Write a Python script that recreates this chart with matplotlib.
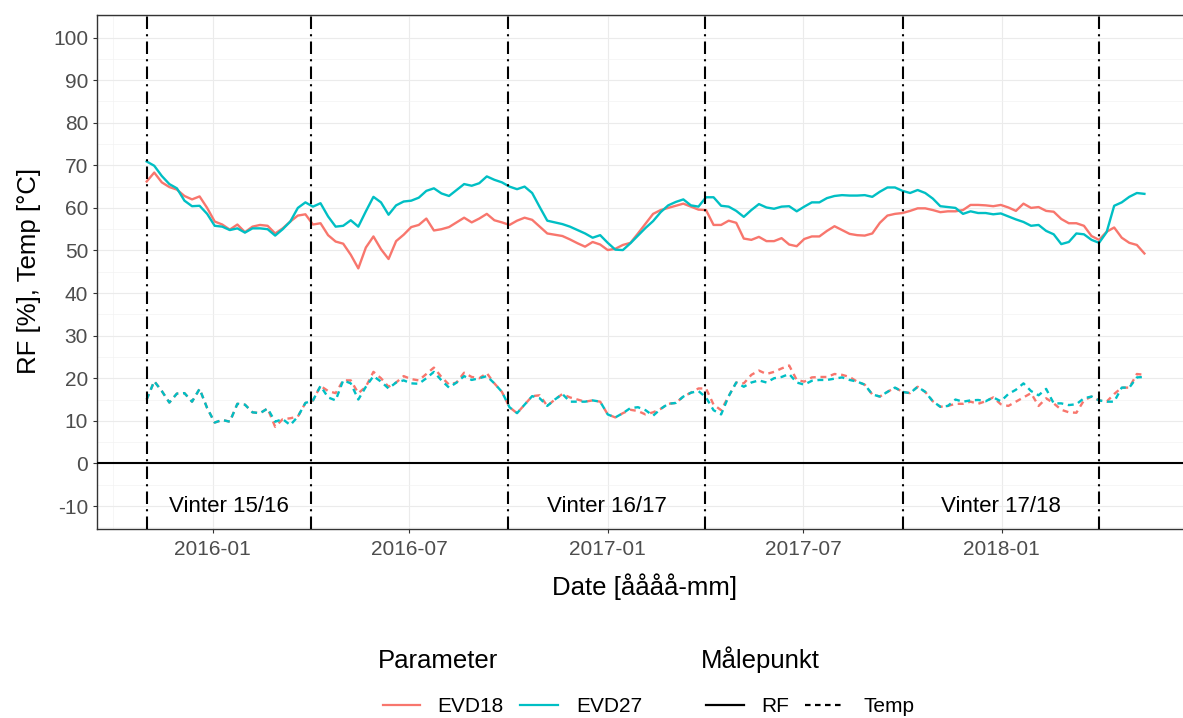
import matplotlib
matplotlib.use("Agg")
import matplotlib.pyplot as plt
import matplotlib.dates as mdates
from matplotlib.lines import Line2D
import pandas as pd

plt.rcParams['font.family'] = ['Liberation Sans', 'DejaVu Sans']
plt.rcParams['axes.unicode_minus'] = False

# ---------------- data (weekly readings from the reference) ----------------
start_date = "2015-11-01"
n_points = 133
dates = pd.date_range(start_date, periods=n_points, freq="7D")

rf_evd18 = [66.2, 68.3, 66.0, 64.9, 64.3, 62.8, 62.0, 62.7, 60.0, 56.8,
            56.1, 54.9, 56.1, 54.3, 55.6, 56.0, 55.8, 54.0, 55.2, 56.8,
            58.2, 58.5, 56.1, 56.4, 53.6, 52.1, 51.6, 49.0, 45.8, 50.7,
            53.3, 50.3, 48.0, 52.2, 53.7, 55.5, 56.0, 57.5, 54.7, 55.0,
            55.5, 56.6, 57.7, 56.6, 57.5, 58.6, 57.1, 56.6, 56.0, 57.0,
            57.7, 57.2, 55.6, 54.0, 53.7, 53.4, 52.6, 51.7, 50.9, 52.0,
            51.4, 50.1, 50.4, 51.3, 51.8, 54.0, 56.3, 58.6, 59.5, 60.0,
            60.5, 61.0, 60.3, 59.6, 59.5, 56.0, 56.0, 57.0, 56.5, 52.8,
            52.5, 53.2, 52.2, 52.2, 52.9, 51.4, 51.0, 52.7, 53.3, 53.3,
            54.6, 55.7, 54.8, 53.9, 53.6, 53.5, 54.0, 56.5, 58.2, 58.6,
            58.8, 59.3, 59.9, 59.9, 59.5, 59.0, 59.2, 59.2, 59.5, 60.7,
            60.7, 60.6, 60.4, 60.7, 60.1, 59.3, 61.0, 60.0, 60.2, 59.3,
            59.1, 57.4, 56.4, 56.4, 55.8, 53.4, 52.5, 54.4, 55.4, 53.0,
            51.8, 51.3, 49.3]

rf_evd27 = [70.9, 69.9, 67.5, 65.6, 64.6, 61.7, 60.4, 60.5, 58.6, 55.8,
            55.6, 54.8, 55.2, 54.2, 55.2, 55.2, 55.0, 53.5, 55.0, 56.8,
            60.0, 61.3, 60.3, 61.1, 58.0, 55.6, 55.8, 57.1, 55.6, 59.2,
            62.6, 61.3, 58.4, 60.6, 61.5, 61.7, 62.4, 64.0, 64.6, 63.4,
            62.8, 64.2, 65.6, 65.2, 65.8, 67.4, 66.6, 66.0, 65.0, 64.4,
            65.0, 63.5, 60.2, 57.0, 56.6, 56.2, 55.6, 54.8, 54.0, 53.0,
            53.6, 51.8, 50.2, 50.1, 51.7, 53.5, 55.3, 56.9, 59.0, 60.6,
            61.4, 62.0, 60.6, 60.3, 62.5, 62.5, 60.5, 60.3, 59.3, 57.9,
            59.5, 60.9, 60.1, 59.8, 60.3, 60.4, 59.2, 60.3, 61.3, 61.3,
            62.3, 62.8, 63.0, 62.9, 62.9, 63.0, 62.6, 63.8, 64.8, 64.8,
            64.0, 63.5, 64.2, 63.5, 62.2, 60.4, 60.2, 60.0, 58.6, 59.2,
            58.8, 58.8, 58.5, 58.7, 58.0, 57.3, 56.7, 55.8, 56.0, 54.6,
            53.8, 51.5, 52.0, 54.0, 53.8, 52.5, 51.8, 54.3, 60.5, 61.3,
            62.6, 63.5, 63.3]

temp_evd18 = [15.0, 19.3, 17.0, 14.3, 16.4, 16.5, 14.5, 17.5, 13.0, 9.6,
              10.2, 9.8, 14.0, 13.8, 12.0, 11.8, 12.9, 8.6, 10.4, 10.6,
              11.0, 14.2, 14.8, 18.2, 17.0, 16.5, 19.5, 19.5, 16.5, 18.0,
              21.5, 20.0, 18.0, 19.0, 20.5, 19.8, 19.5, 21.0, 22.5, 20.3,
              18.5, 19.0, 21.3, 20.3, 20.0, 21.2, 18.8, 16.8, 13.2, 11.8,
              13.8, 15.8, 16.0, 13.5, 15.0, 16.3, 15.5, 15.0, 14.5, 14.8,
              14.5, 11.5, 10.8, 11.8, 12.6, 12.3, 11.5, 12.0, 12.8, 14.0,
              14.2, 15.7, 16.6, 17.6, 17.6, 13.8, 12.5, 15.8, 19.0, 18.8,
              20.8, 21.8, 21.0, 21.5, 22.3, 23.0, 19.6, 19.2, 20.2, 20.3,
              20.3, 21.0, 20.8, 20.3, 19.2, 18.5, 16.2, 15.7, 16.8, 17.8,
              16.8, 16.5, 18.0, 16.8, 14.6, 13.3, 13.5, 14.0, 14.0, 14.5,
              14.0, 14.6, 15.5, 13.9, 13.5, 14.5, 15.5, 16.5, 13.5, 15.3,
              14.1, 12.6, 12.0, 11.9, 14.8, 15.7, 14.8, 14.5, 16.3, 17.8,
              17.8, 21.0, 20.8]

temp_evd27 = [15.0, 19.3, 17.0, 14.3, 16.4, 16.5, 14.5, 17.5, 13.0, 9.6,
              10.2, 9.8, 14.0, 13.8, 12.0, 11.8, 12.9, 9.8, 10.4, 9.0,
              11.0, 14.2, 14.8, 18.2, 15.5, 14.8, 19.5, 18.8, 15.0, 18.0,
              20.5, 19.2, 17.6, 19.0, 19.5, 18.8, 18.7, 20.0, 21.5, 19.5,
              17.8, 19.0, 20.5, 19.6, 20.0, 20.5, 18.8, 16.8, 13.2, 11.8,
              13.8, 15.8, 15.3, 13.5, 15.0, 16.3, 14.5, 14.5, 14.5, 14.8,
              14.5, 11.5, 10.8, 11.8, 13.0, 13.2, 12.5, 11.2, 12.8, 14.0,
              14.2, 15.7, 16.6, 17.0, 15.5, 12.5, 11.5, 15.8, 19.0, 18.0,
              19.0, 19.5, 19.0, 20.0, 20.3, 21.0, 19.0, 18.5, 19.4, 19.6,
              19.6, 19.9, 20.2, 19.6, 19.2, 18.5, 16.2, 15.7, 16.8, 17.8,
              16.8, 16.5, 18.0, 16.8, 14.6, 13.3, 13.5, 15.0, 14.5, 14.8,
              14.9, 14.6, 15.5, 14.6, 16.3, 17.3, 18.8, 17.0, 16.0, 17.5,
              14.1, 14.1, 13.7, 13.9, 15.3, 15.7, 14.8, 14.5, 14.5, 17.8,
              17.8, 20.2, 20.3]

winter_start = pd.to_datetime(["2015-11-01", "2016-10-01", "2017-10-01"])
winter_end = pd.to_datetime(["2016-04-01", "2017-04-01", "2018-04-01"])
winter_labels = ["Vinter 15/16", "Vinter 16/17", "Vinter 17/18"]

y_ticks = list(range(-10, 101, 10))
y_minor = list(range(-15, 106, 10))
x_ticks = pd.to_datetime(["2016-01-01", "2016-07-01", "2017-01-01",
                          "2017-07-01", "2018-01-01"])
x_minor = pd.to_datetime(["2015-10-01", "2016-04-01", "2016-10-01",
                          "2017-04-01", "2017-10-01", "2018-04-01"])

param_labels = ["EVD18", "EVD27"]
param_colors = ["#F8766D", "#00BFC4"]
mp_labels = ["RF", "Temp"]

# ---------------- figure ----------------
W, H = 1183, 718
fig = plt.figure(figsize=(W / 100, H / 100), dpi=100)
ax = fig.add_axes([97 / W, 1 - 529 / H, (1193 - 97) / W, (529 - 15) / H])

ax.set_xlim(pd.Timestamp("2015-09-16"), pd.Timestamp("2018-06-27"))
ax.set_ylim(-15.4, 105.3)

ax.set_yticks(y_ticks)
ax.set_yticks(y_minor, minor=True)
ax.set_xticks(x_ticks)
ax.set_xticks(x_minor, minor=True)
ax.xaxis.set_major_formatter(mdates.DateFormatter("%Y-%m"))

ax.grid(which="major", color="#EBEBEB", lw=0.8)
ax.grid(which="minor", color="#F2F2F2", lw=0.45)
ax.set_axisbelow(True)

ax.tick_params(which="major", length=2.9, width=0.8, color="#333333",
               labelsize=15, labelcolor="#4D4D4D")
ax.tick_params(axis="y", which="major", pad=3.5)
ax.tick_params(axis="x", which="major", pad=5.0)
ax.tick_params(which="minor", length=0)
for s in ax.spines.values():
    s.set_color("#333333")
    s.set_linewidth(1.0)

dash_temp = (0, (2.5, 2.0))
rf_series = [rf_evd18, rf_evd27]
temp_series = [temp_evd18, temp_evd27]
for vals, col in zip(rf_series, param_colors):
    ax.plot(dates, vals, color=col, lw=1.7, solid_joinstyle="round", zorder=3)
for vals, col in zip(temp_series, param_colors):
    ax.plot(dates, vals, color=col, lw=1.7, ls=dash_temp, zorder=3)

ax.axhline(0, color="black", lw=1.5, zorder=4)
vline_style = (0, (6, 2.5, 1, 2.5))
for d in list(winter_start) + list(winter_end):
    ax.axvline(d, color="black", lw=1.5, ls=vline_style, zorder=5)

for s, e, lab in zip(winter_start, winter_end, winter_labels):
    mid = s + (e - s) / 2
    ax.text(mid, -10.2, lab, ha="center", va="center", fontsize=16,
            color="black", zorder=6)

# axis titles
fig.text(29 / W, 1 - 271 / H, "RF [%], Temp [°C]", rotation=90,
         fontsize=18.5, ha="center", va="center")
fig.text(645 / W, 1 - 595 / H, "Date [åååå-mm]", fontsize=18.5,
         ha="center", va="baseline")

# legends (manual, ggplot style at the bottom)
title_base = 1 - 668 / H
label_base = 1 - 712.5 / H
key_y = 1 - 705 / H
fig.text(378 / W, title_base, "Parameter", fontsize=18.5, va="baseline")
fig.text(701 / W, title_base, "Målepunkt", fontsize=18.5, va="baseline")

param_keys = [(383, 420, 437), (520, 558, 576)]
for (x0, x1, xt), lab, col in zip(param_keys, param_labels, param_colors):
    fig.add_artist(Line2D([x0 / W, x1 / W], [key_y, key_y], color=col, lw=1.6,
                          transform=fig.transFigure))
    fig.text(xt / W, label_base, lab, fontsize=15, va="baseline")

mp_keys = [(706, 744, 761, "-"), (805, 843, 863, dash_temp)]
for (x0, x1, xt, ls), lab in zip(mp_keys, mp_labels):
    fig.add_artist(Line2D([x0 / W, x1 / W], [key_y, key_y], color="black",
                          lw=1.6, ls=ls, transform=fig.transFigure))
    fig.text(xt / W, label_base, lab, fontsize=15, va="baseline")

fig.savefig("out.png", dpi=100)
